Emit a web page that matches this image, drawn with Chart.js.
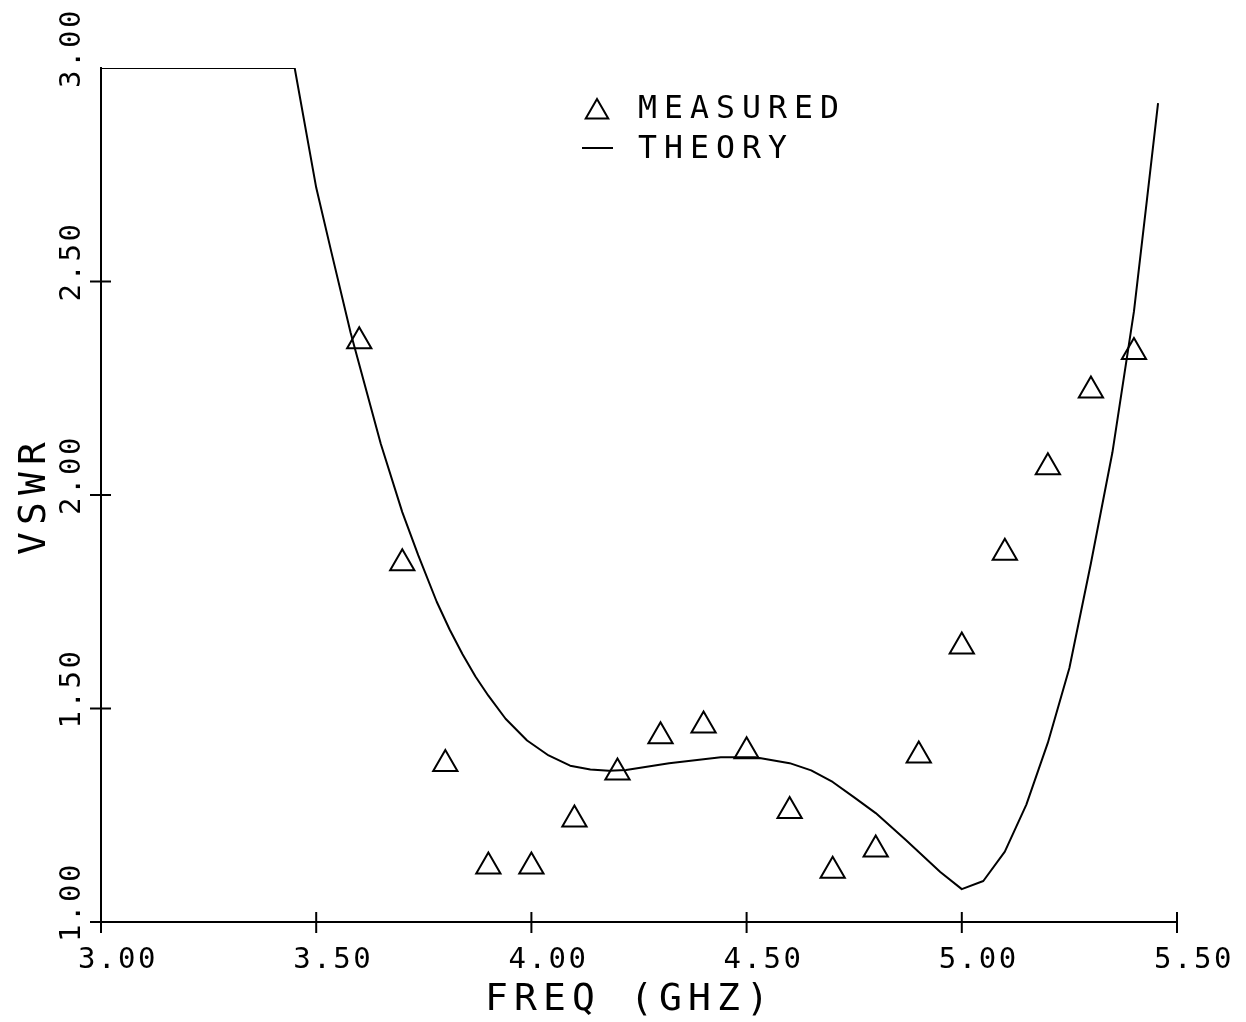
<!DOCTYPE html>
<html>
<head>
<meta charset="utf-8">
<script src="https://cdn.jsdelivr.net/npm/chart.js@4.4.1/dist/chart.umd.min.js"></script>
<style>
  html, body { margin: 0; padding: 0; background: #fff; }
  canvas { display: block; }
</style>
</head>
<body>
<canvas id="vswrChart" width="1246" height="1022"></canvas>
<script>
// Data
const measuredFreq = [3.6, 3.7, 3.8, 3.9, 4.0, 4.1, 4.2, 4.3, 4.4, 4.5, 4.6, 4.7, 4.8, 4.9, 5.0, 5.1, 5.2, 5.3, 5.4];
const measuredVswr = [2.36, 1.84, 1.37, 1.13, 1.13, 1.24, 1.35, 1.435, 1.46, 1.40, 1.26, 1.12, 1.17, 1.39, 1.645, 1.865, 2.065, 2.245, 2.335];

const theoryFreq = [3.00, 3.45, 3.50, 3.535, 3.58, 3.65, 3.70, 3.737, 3.78, 3.81, 3.84, 3.87, 3.90, 3.94, 3.99, 4.04, 4.09, 4.137, 4.18, 4.22, 4.32, 4.44, 4.52, 4.60, 4.65, 4.70, 4.75, 4.80, 4.87, 4.95, 5.00, 5.05, 5.10, 5.15, 5.20, 5.25, 5.30, 5.35, 5.40, 5.43, 5.456];
const theoryVswr = [3.00, 3.00, 2.72, 2.57, 2.38, 2.12, 1.96, 1.859, 1.75, 1.685, 1.627, 1.575, 1.53, 1.476, 1.425, 1.39, 1.366, 1.357, 1.354, 1.356, 1.372, 1.386, 1.386, 1.372, 1.355, 1.328, 1.292, 1.255, 1.192, 1.117, 1.077, 1.096, 1.165, 1.275, 1.42, 1.595, 1.84, 2.10, 2.43, 2.69, 2.918];

const xTicks = [3.0, 3.5, 4.0, 4.5, 5.0, 5.5];
const xTickLabels = ['3.00', '3.50', '4.00', '4.50', '5.00', '5.50'];
const yTicks = [1.0, 1.5, 2.0, 2.5, 3.0];
const yTickLabels = ['1.00', '1.50', '2.00', '2.50', '3.00'];

const FONT = '"DejaVu Sans Mono", monospace';

// Draw text one glyph at a time on a fixed pitch (plotter lettering)
function plotText(ctx, text, x, y, size, pitch) {
    ctx.font = size + 'px ' + FONT;
    ctx.textAlign = 'left';
    ctx.textBaseline = 'alphabetic';
    for (let i = 0; i < text.length; i++) {
        ctx.fillText(text[i], x + i * pitch, y);
    }
}

// Axes ticks, labels, titles and legend
const plotterDecor = {
    id: 'plotterDecor',
    afterDraw(chart) {
        const ctx = chart.ctx;
        const xs = chart.scales.x;
        const ys = chart.scales.y;
        const area = chart.chartArea;
        ctx.save();
        ctx.strokeStyle = '#000';
        ctx.fillStyle = '#000';
        ctx.lineWidth = 2;

        // x ticks cross the axis
        xTicks.forEach((v, i) => {
            const px = xs.getPixelForValue(v);
            ctx.beginPath();
            ctx.moveTo(px, i === 0 ? area.bottom : area.bottom - 10);
            ctx.lineTo(px, area.bottom + 11);
            ctx.stroke();
            plotText(ctx, xTickLabels[i], px - 23, area.bottom + 46, 29, 20);
        });

        // y ticks cross the axis, labels turned to read upwards
        yTicks.forEach((v, i) => {
            const py = ys.getPixelForValue(v);
            if (i < yTicks.length - 1) {
                ctx.beginPath();
                ctx.moveTo(area.left - 11, py);
                ctx.lineTo(area.left + 10, py);
                ctx.stroke();
            }
            ctx.save();
            ctx.translate(area.left - 21, py + 20);
            ctx.rotate(-Math.PI / 2);
            plotText(ctx, yTickLabels[i], 0, 0, 29, 20);
            ctx.restore();
        });

        // axis titles
        plotText(ctx, 'FREQ (GHZ)', 485, 1010, 38, 29);
        ctx.save();
        ctx.translate(45, 555);
        ctx.rotate(-Math.PI / 2);
        plotText(ctx, 'VSWR', 0, 0, 38, 30);
        ctx.restore();

        // legend
        const tx = 597, ty = 112, r = 13;
        ctx.beginPath();
        ctx.moveTo(tx, ty - r);
        ctx.lineTo(tx + r * 0.866, ty + r * 0.5);
        ctx.lineTo(tx - r * 0.866, ty + r * 0.5);
        ctx.closePath();
        ctx.stroke();
        plotText(ctx, 'MEASURED', 638, 118, 31.5, 26);
        ctx.beginPath();
        ctx.moveTo(582, 148);
        ctx.lineTo(613, 148);
        ctx.stroke();
        plotText(ctx, 'THEORY', 638, 158, 31.5, 26);

        ctx.restore();
    }
};

const theoryPoints = theoryFreq.map((f, i) => ({ x: f, y: theoryVswr[i] }));
const measuredPoints = measuredFreq.map((f, i) => ({ x: f, y: measuredVswr[i] }));

new Chart(document.getElementById('vswrChart'), {
    type: 'scatter',
    data: {
        datasets: [
            {
                label: 'THEORY',
                data: theoryPoints,
                showLine: true,
                borderColor: '#000',
                borderWidth: 2,
                borderJoinStyle: 'round',
                pointRadius: 0,
                tension: 0,
                fill: false
            },
            {
                label: 'MEASURED',
                data: measuredPoints,
                showLine: false,
                pointStyle: 'triangle',
                pointRadius: 14,
                borderColor: '#000',
                borderWidth: 2,
                backgroundColor: 'rgba(0,0,0,0)'
            }
        ]
    },
    options: {
        responsive: false,
        animation: false,
        devicePixelRatio: 1,
        layout: { padding: { top: 68, right: 69, left: 0, bottom: 0 } },
        plugins: {
            legend: { display: false },
            tooltip: { enabled: false }
        },
        scales: {
            x: {
                type: 'linear',
                min: 3,
                max: 5.5,
                ticks: { display: false },
                grid: { display: false },
                border: { display: true, color: '#000', width: 2 },
                afterFit(scale) { scale.height = 100; }
            },
            y: {
                type: 'linear',
                min: 1,
                max: 3,
                ticks: { display: false },
                grid: { display: false },
                border: { display: true, color: '#000', width: 2 },
                afterFit(scale) { scale.width = 101; }
            }
        }
    },
    plugins: [plotterDecor]
});
</script>
</body>
</html>
